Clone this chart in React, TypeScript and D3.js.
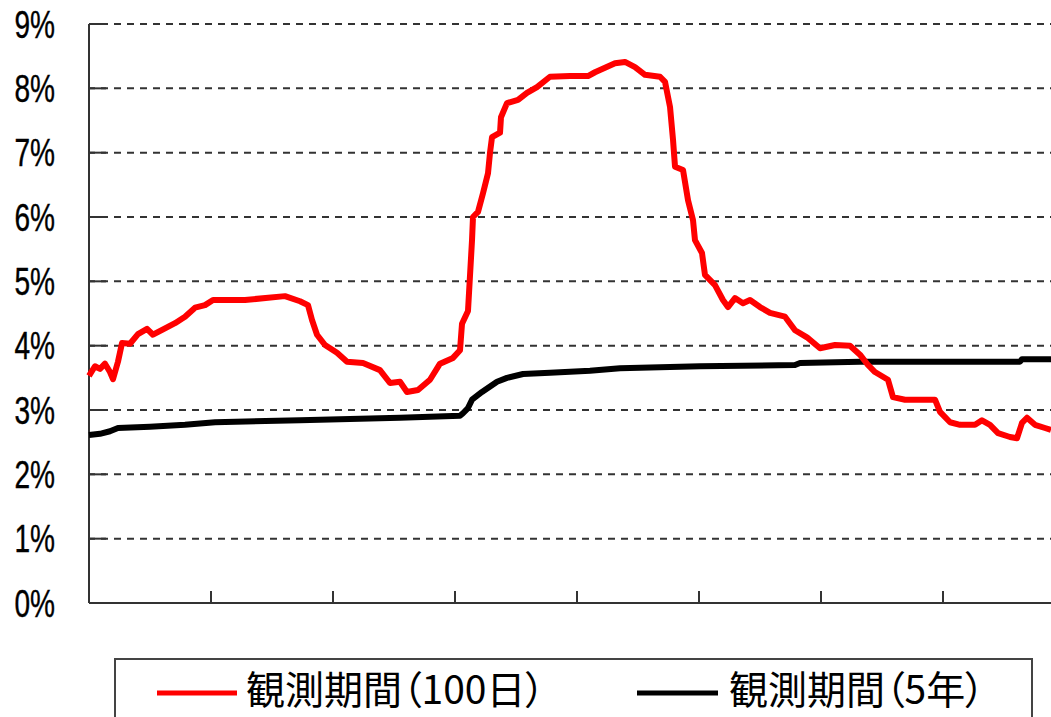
import React from 'react';
import * as d3 from 'd3';

// x positions along the (unlabelled) time axis, one tick every 20 units
const days100 = [
  0, 0.98, 1.8, 2.62, 3.44, 3.93, 4.75, 5.41, 6.72, 8.03, 9.51, 10.49, 12.46, 14.1, 15.74, 17.38,
  19.02, 20.33, 25.57, 32.13, 34.59, 35.9, 36.56, 37.38, 38.69, 40.66, 42.3, 44.92, 47.7, 49.34,
  50.98, 52.13, 53.93, 55.9, 57.54, 59.67, 60.82, 61.15, 62.13, 62.79, 62.95, 63.77, 64.59, 65.41,
  65.74, 66.07, 67.38, 67.54, 68.52, 70.33, 71.8, 73.44, 75.57, 78.85, 81.8, 82.95, 84.59, 86.23,
  87.87, 89.51, 91.15, 93.61, 94.43, 95.25, 95.74, 96.07, 97.38, 98.2, 99.02, 99.34, 100.49,
  100.98, 102.62, 103.93, 104.75, 105.9, 107.21, 108.36, 110, 111.64, 114.1, 115.74, 117.7,
  119.84, 122.3, 124.75, 126.39, 127.7, 128.85, 130.98, 131.8, 133.77, 138.69, 139.51, 141.15,
  142.79, 145.25, 146.39, 147.7, 149.02, 150.98, 152.13, 152.95, 153.77, 155.08, 156.72, 157.7,
];
const vol100 = [
  3.53, 3.68, 3.64, 3.72, 3.59, 3.48, 3.75, 4.04, 4.03, 4.18, 4.26, 4.17, 4.27, 4.35, 4.45, 4.59,
  4.63, 4.71, 4.71, 4.77, 4.69, 4.63, 4.4, 4.17, 4.01, 3.89, 3.75, 3.73, 3.62, 3.42,
  3.44, 3.28, 3.31, 3.47, 3.72, 3.81, 3.93, 4.34, 4.54, 5.64, 6.0, 6.08, 6.37, 6.68,
  7.0, 7.24, 7.31, 7.55, 7.77, 7.82, 7.93, 8.02, 8.18, 8.19, 8.19, 8.25, 8.32, 8.39,
  8.41, 8.33, 8.21, 8.18, 8.1, 7.71, 7.2, 6.78, 6.73, 6.26, 5.95, 5.64, 5.44,
  5.1, 4.94, 4.71, 4.6, 4.74, 4.66, 4.71, 4.6, 4.51, 4.45, 4.24, 4.13,
  3.96, 4.01, 4.0, 3.86, 3.7, 3.59, 3.47, 3.2, 3.16, 3.16, 2.97, 2.81,
  2.77, 2.77, 2.84, 2.77, 2.64, 2.58, 2.56, 2.8, 2.88, 2.77, 2.72, 2.69,
];

const days5y = [
  0, 1.8, 3.44, 4.75, 10, 15.74, 20.66, 34.59, 50.98, 60.82, 61.31, 62.13, 62.79, 64.43, 66.89,
  68.52, 71.15, 75.57, 82.13, 87.05, 100.16, 115.74, 116.56, 126.39, 152.62, 152.95, 157.7,
];
const vol5y = [
  2.61, 2.63, 2.67, 2.72, 2.74, 2.77, 2.81, 2.84, 2.88, 2.91, 2.95, 3.03, 3.16, 3.28, 3.44,
  3.5, 3.56, 3.58, 3.61, 3.65, 3.68, 3.7, 3.73, 3.75, 3.75, 3.79, 3.79,
];

const yTicks = [0, 1, 2, 3, 4, 5, 6, 7, 8, 9];
const xTicks = [20, 40, 60, 80, 100, 120, 140];
const legendLabels = ['観測期間（100日）', '観測期間（5年）'];

const W = 1051;
const H = 717;
const left = 89;
const top = 24;
const bottom = 603;

export default function App() {
  const x = d3.scaleLinear().domain([0, 160]).range([left, left + 122 * 8]);
  const y = d3.scaleLinear().domain([0, 9]).range([bottom, top]);

  const line = d3
    .line<[number, number]>()
    .x(d => x(d[0]))
    .y(d => y(d[1]));

  const red = days100.map((d, i) => [d, vol100[i]] as [number, number]);
  const black = days5y.map((d, i) => [d, vol5y[i]] as [number, number]);

  return (
    <svg
      width={W}
      height={H}
      style={{ position: 'absolute', left: 0, top: 0, background: '#fff' }}
    >
      {/* gridlines */}
      {yTicks.filter(t => t > 0).map(t => (
        <g key={t}>
          <line x1={left} x2={W} y1={y(t)} y2={y(t)} stroke="#333" strokeWidth={2}
            strokeDasharray="7,6" strokeDashoffset={-12} />
          <line x1={left} x2={left + 17} y1={y(t)} y2={y(t)} stroke="#333" strokeWidth={2} />
        </g>
      ))}
      {/* axes */}
      <line x1={left} x2={left} y1={top} y2={bottom} stroke="#333" strokeWidth={2} />
      <line x1={left} x2={W} y1={bottom} y2={bottom} stroke="#333" strokeWidth={2} />
      {xTicks.map(t => (
        <line key={t} x1={x(t)} x2={x(t)} y1={bottom} y2={bottom - 12} stroke="#333" strokeWidth={2} />
      ))}
      {yTicks.map(t => (
        <text
          key={t}
          transform={`translate(55,${y(t)}) scale(0.72,1)`}
          textAnchor="end"
          dominantBaseline="central"
          fontFamily="'Liberation Sans', Arial, sans-serif"
          fontSize={39}
          fill="#000"
          stroke="#000"
          strokeWidth={0.4}
        >
          {t}%
        </text>
      ))}
      {/* series */}
      <path d={line(black) || ''} fill="none" stroke="#000" strokeWidth={6} strokeLinejoin="round" />
      <path d={line(red) || ''} fill="none" stroke="#ff0000" strokeWidth={6} strokeLinejoin="round" />
      {/* legend */}
      <rect x={115} y={659} width={917} height={80} fill="#fff" stroke="#444" strokeWidth={2} />
      <line x1={157} x2={237} y1={693} y2={693} stroke="#ff0000" strokeWidth={5} />
      <text x={246} y={687} dominantBaseline="central" fontFamily="'Noto Sans CJK JP', sans-serif"
        fontSize={39} fill="#000" style={{ fontFeatureSettings: '"palt"' }}>
        {legendLabels[0]}
      </text>
      <line x1={637} x2={718} y1={693} y2={693} stroke="#000" strokeWidth={5} />
      <text x={729} y={687} dominantBaseline="central" fontFamily="'Noto Sans CJK JP', sans-serif"
        fontSize={39} fill="#000" style={{ fontFeatureSettings: '"palt"' }}>
        {legendLabels[1]}
      </text>
    </svg>
  );
}
